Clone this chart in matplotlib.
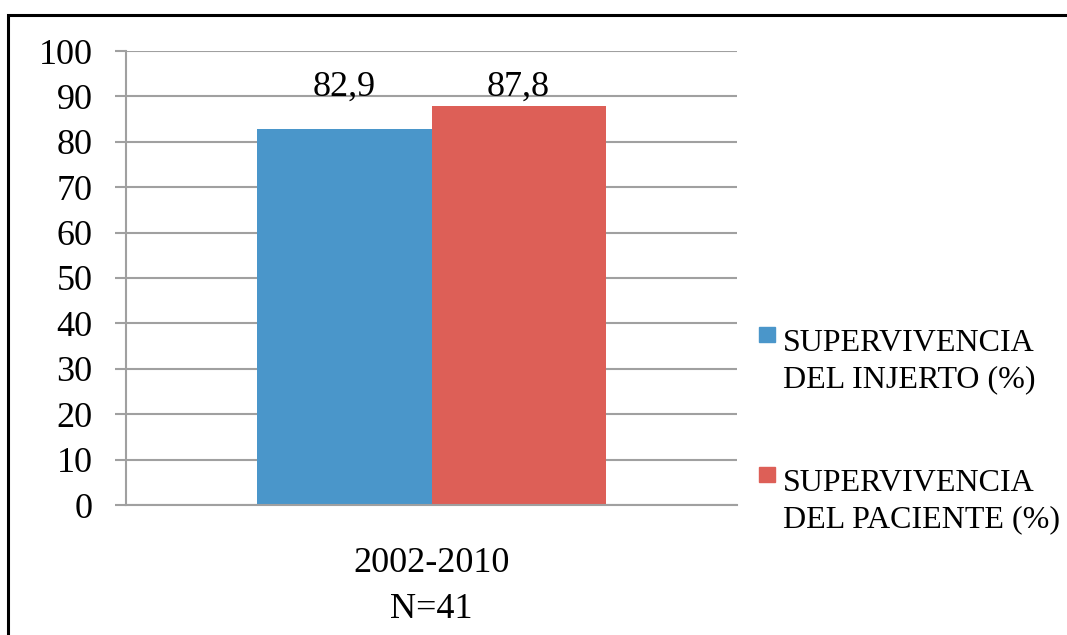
import matplotlib
matplotlib.use("Agg")
import matplotlib.pyplot as plt
import matplotlib.patches as mpatches

# Data
categories = ["2002-2010\nN=41"]
series_names = ["SUPERVIVENCIA\nDEL INJERTO (%)", "SUPERVIVENCIA\nDEL PACIENTE (%)"]
series_values = [[82.9], [87.8]]
value_labels = [["82,9"], ["87,8"]]
colors = ["#4a96ca", "#dd5f57"]
yticks = [0, 10, 20, 30, 40, 50, 60, 70, 80, 90, 100]

plt.rcParams["font.family"] = ["Liberation Serif", "DejaVu Serif"]

fig = plt.figure(figsize=(10.67, 6.35), dpi=100)
ax = fig.add_axes([126 / 1067, 130 / 635, 611 / 1067, 454 / 635])

bar_w = 0.285
n = len(series_values)
for i, vals in enumerate(series_values):
    xs = [c - bar_w * n / 2 + bar_w * (i + 0.5) for c in range(len(categories))]
    ax.bar(xs, vals, width=bar_w, color=colors[i], zorder=2)

# value labels sit at a common height just above the tallest bar
top = max(max(v) for v in series_values)
for i, labels in enumerate(value_labels):
    for c, lab in enumerate(labels):
        x = c - bar_w * n / 2 + bar_w * (i + 0.5)
        ax.annotate(lab, xy=(x, top), xytext=(0, 8), textcoords="offset points",
                    ha="center", va="baseline", fontsize=26, zorder=3)

ax.set_xlim(-0.5, len(categories) - 0.5)
ax.set_ylim(0, 100)
ax.set_yticks(yticks)
ax.set_xticks(range(len(categories)))
ax.set_xticklabels(categories, fontsize=26, linespacing=1.55)
ax.tick_params(axis="y", labelsize=26, length=8, width=1.5, color="#a0a0a0", pad=16)
ax.tick_params(axis="x", length=0, pad=30)
ax.grid(axis="y", color="#a0a0a0", linewidth=1.5, zorder=0)
ax.set_axisbelow(True)
for s in ["top", "right"]:
    ax.spines[s].set_visible(False)
for s in ["left", "bottom"]:
    ax.spines[s].set_color("#a0a0a0")
    ax.spines[s].set_linewidth(1.5)

# manual legend to the right (pixel rows of each entry's first line)
leg_y = [350, 490]
line_h = 37
for i, name in enumerate(series_names):
    yb = 1 - leg_y[i] / 635
    fig.add_artist(mpatches.Rectangle((759 / 1067, yb + 8 / 635), 16 / 1067, 15 / 635,
                                      transform=fig.transFigure, color=colors[i]))
    # baseline alignment applies to the last line of a multi-line text
    fig.text(783 / 1067, yb - line_h / 635, name, fontsize=23, va="baseline",
             ha="left", linespacing=1.3)

# outer frame (runs off the right and bottom edge)
fig.add_artist(mpatches.Rectangle((8 / 1067, -0.05), 1.1, 1 - 15 / 635 + 0.05,
                                  transform=fig.transFigure, fill=False,
                                  edgecolor="black", linewidth=2.2))

fig.savefig("out.png", dpi=100)
